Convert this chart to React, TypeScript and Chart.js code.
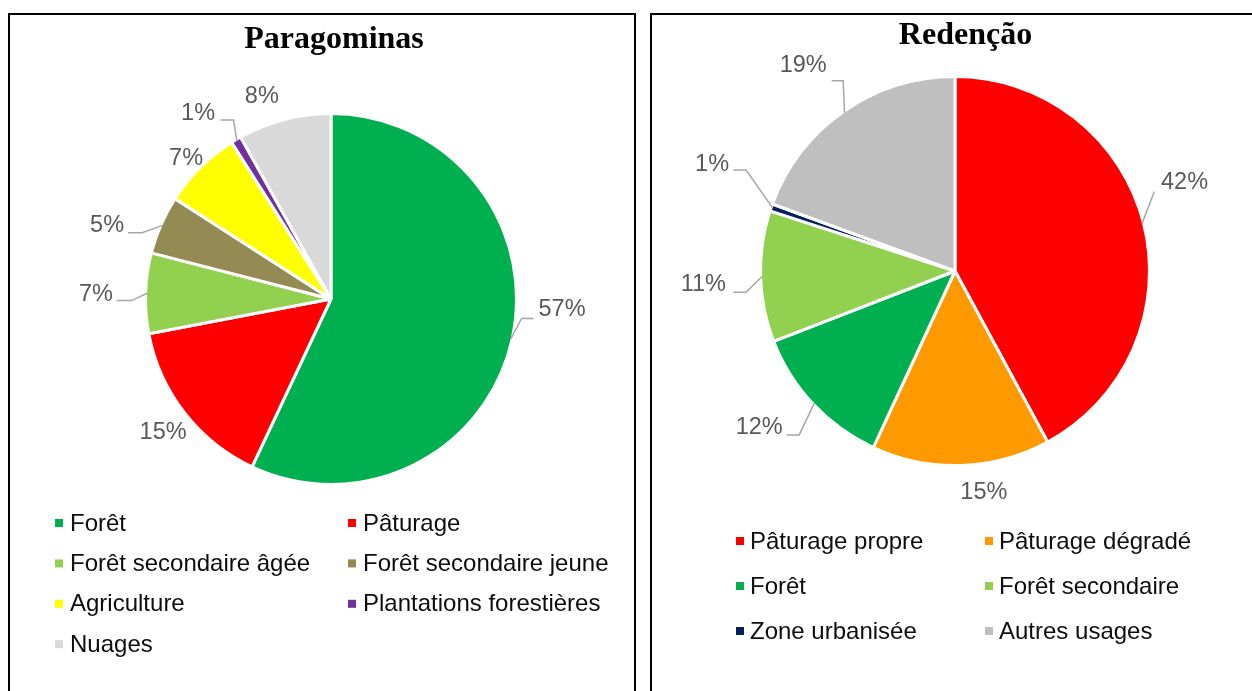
import React, { useEffect, useRef } from "react";
import { Chart, registerables } from "chart.js";

Chart.register(...registerables);

// ---------- Data ----------
const paragominasCategories = [
  "Forêt",
  "Pâturage",
  "Forêt secondaire âgée",
  "Forêt secondaire jeune",
  "Agriculture",
  "Plantations forestières",
  "Nuages",
];
const paragominasValues = [57.0, 15.0, 7.0, 5.1, 6.9, 0.9, 8.1];
const paragominasColors = ["#00B050", "#FF0000", "#92D050", "#948A54", "#FFFF00", "#7030A0", "#D9D9D9"];

const redencaoCategories = [
  "Pâturage propre",
  "Pâturage dégradé",
  "Forêt",
  "Forêt secondaire",
  "Zone urbanisée",
  "Autres usages",
];
const redencaoValues = [42.1, 14.8, 12.2, 10.9, 0.6, 19.4];
const redencaoColors = ["#FF0000", "#FF9900", "#00B050", "#92D050", "#002060", "#BFBFBF"];

// ---------- Layout / style config (page coordinates) ----------
type LabelPlace = { angle: number; dist: number; leader?: [number, number, number] };

type PanelCfg = {
  title: string;
  categories: string[];
  values: number[];
  colors: string[];
  box: { left: number; top: number; width: number; height: number };
  canvas: { left: number; top: number; width: number; height: number };
  padding: { left: number; top: number; right: number; bottom: number };
  titlePos: { x: number; y: number };
  labels: LabelPlace[];
  legend: { cols: number[]; row0: number; rowGap: number; textGap: number };
};

const PANELS: PanelCfg[] = [
  {
    title: "Paragominas",
    categories: paragominasCategories,
    values: paragominasValues,
    colors: paragominasColors,
    box: { left: 8, top: 13, width: 628, height: 720 },
    canvas: { left: 10, top: 15, width: 624, height: 676 },
    padding: { left: 134, top: 97, right: 116, bottom: 205 },
    titlePos: { x: 334, y: 48 },
    labels: [
      { angle: 92.7, dist: 1.247, leader: [-28.4, 8.6, 12] },
      { angle: 231.6, dist: 1.155 },
      { angle: 271.0, dist: 1.267, leader: [20.7, 5.7, 15] },
      { angle: 288.1, dist: 1.27, leader: [21, 7, 14] },
      { angle: 314.2, dist: 1.09 },
      { angle: 324.3, dist: 1.228, leader: [22.5, 6, 13] },
      { angle: 341.1, dist: 1.151 },
    ],
    legend: { cols: [55, 348], row0: 523, rowGap: 40.4, textGap: 15 },
  },
  {
    title: "Redenção",
    categories: redencaoCategories,
    values: redencaoValues,
    colors: redencaoColors,
    box: { left: 650, top: 13, width: 640, height: 720 },
    canvas: { left: 652, top: 15, width: 600, height: 676 },
    padding: { left: 107, top: 60, right: 101, bottom: 224 },
    titlePos: { x: 965.5, y: 44 },
    labels: [
      { angle: 69.0, dist: 1.264, leader: [-30.2, 8.7, 0] },
      { angle: 172.6, dist: 1.151 },
      { angle: 231.3, dist: 1.29, leader: [27.4, 7, 12.6] },
      { angle: 266.9, dist: 1.296, leader: [30, 7.6, 12.7] },
      { angle: 293.7, dist: 1.364, leader: [21.3, 5.7, 12.7] },
      { angle: 323.5, dist: 1.312, leader: [28.4, 14.9, 11.6] },
    ],
    legend: { cols: [736, 985], row0: 541, rowGap: 45, textGap: 14 },
  },
];

const SANS = '"Liberation Sans", Arial, sans-serif';
const SERIF = '"Liberation Serif", "Times New Roman", serif';

function makeDecorPlugin(cfg: PanelCfg) {
  const ox = cfg.canvas.left;
  const oy = cfg.canvas.top;
  return {
    id: "decor",
    afterDraw(chart: any) {
      const ctx: CanvasRenderingContext2D = chart.ctx;
      const meta = chart.getDatasetMeta(0);
      const ds = chart.data.datasets[0];
      const values = ds.data as number[];
      const total = values.reduce((a, b) => a + b, 0);
      ctx.save();

      // Title
      ctx.fillStyle = "#000000";
      ctx.font = `bold 32px ${SERIF}`;
      ctx.textAlign = "center";
      ctx.textBaseline = "alphabetic";
      ctx.fillText(cfg.title, cfg.titlePos.x - ox, cfg.titlePos.y - oy);

      // Data labels with leader lines
      ctx.font = `23.5px ${SANS}`;
      ctx.textBaseline = "middle";
      meta.data.forEach((arc: any, i: number) => {
        const p = arc.getProps(["x", "y", "startAngle", "endAngle", "outerRadius"], true);
        const place = cfg.labels[i];
        const a = ((place.angle - 90) * Math.PI) / 180;
        const R = p.outerRadius * place.dist;
        const lx = p.x + Math.cos(a) * R;
        const ly = p.y + Math.sin(a) * R;
        const txt = Math.round((values[i] / total) * 100) + "%";
        if (place.leader) {
          const mid = (p.startAngle + p.endAngle) / 2;
          const r0 = p.outerRadius - 1.5;
          const px = p.x + Math.cos(mid) * r0;
          const py = p.y + Math.sin(mid) * r0;
          const ax = lx + place.leader[0];
          const ay = ly + place.leader[1];
          const ex = ax + Math.sign(px - ax) * place.leader[2];
          ctx.strokeStyle = "#A6A6A6";
          ctx.lineWidth = 1.5;
          ctx.beginPath();
          ctx.moveTo(px, py);
          ctx.lineTo(ex, ay);
          ctx.lineTo(ax, ay);
          ctx.stroke();
        }
        ctx.fillStyle = "#595959";
        ctx.textAlign = "center";
        ctx.fillText(txt, lx, ly);
      });

      // Legend (two-column grid)
      ctx.font = `24px ${SANS}`;
      ctx.textAlign = "left";
      ctx.textBaseline = "middle";
      const labels = chart.data.labels as string[];
      const colors = ds.backgroundColor as string[];
      labels.forEach((lab, i) => {
        const col = i % 2;
        const row = Math.floor(i / 2);
        const mx = cfg.legend.cols[col] - ox;
        const my = cfg.legend.row0 + row * cfg.legend.rowGap - oy;
        ctx.fillStyle = colors[i];
        ctx.fillRect(mx, my - 4, 8, 8);
        ctx.fillStyle = "#0D0D0D";
        ctx.fillText(lab, mx + cfg.legend.textGap, my + 1);
      });
      ctx.restore();
    },
  };
}

function PiePanel({ cfg }: { cfg: PanelCfg }) {
  const ref = useRef<HTMLCanvasElement>(null);
  useEffect(() => {
    if (!ref.current) return;
    const chart = new Chart(ref.current, {
      type: "pie",
      data: {
        labels: cfg.categories,
        datasets: [
          {
            data: cfg.values,
            backgroundColor: cfg.colors,
            borderColor: "#FFFFFF",
            borderWidth: 3,
            hoverBorderWidth: 3,
            hoverOffset: 0,
          },
        ],
      },
      options: {
        responsive: false,
        animation: false,
        devicePixelRatio: 1,
        events: [],
        layout: { padding: cfg.padding },
        plugins: {
          legend: { display: false },
          title: { display: false },
          tooltip: { enabled: false },
        },
      },
      plugins: [makeDecorPlugin(cfg)],
    } as any);
    return () => chart.destroy();
  }, [cfg]);

  const innerLeft = cfg.canvas.left - cfg.box.left - 2;
  const innerTop = cfg.canvas.top - cfg.box.top - 2;
  return (
    <div
      style={{
        position: "absolute",
        left: cfg.box.left,
        top: cfg.box.top,
        width: cfg.box.width,
        height: cfg.box.height,
        border: "2px solid #000",
        boxSizing: "border-box",
        background: "#fff",
      }}
    >
      <canvas
        ref={ref}
        width={cfg.canvas.width}
        height={cfg.canvas.height}
        style={{
          position: "absolute",
          left: innerLeft,
          top: innerTop,
          width: cfg.canvas.width,
          height: cfg.canvas.height,
        }}
      />
    </div>
  );
}

export default function App() {
  return (
    <div
      style={{
        position: "fixed",
        left: 0,
        top: 0,
        width: 1252,
        height: 691,
        overflow: "hidden",
        background: "#fff",
      }}
    >
      {PANELS.map((p) => (
        <PiePanel key={p.title} cfg={p} />
      ))}
    </div>
  );
}
